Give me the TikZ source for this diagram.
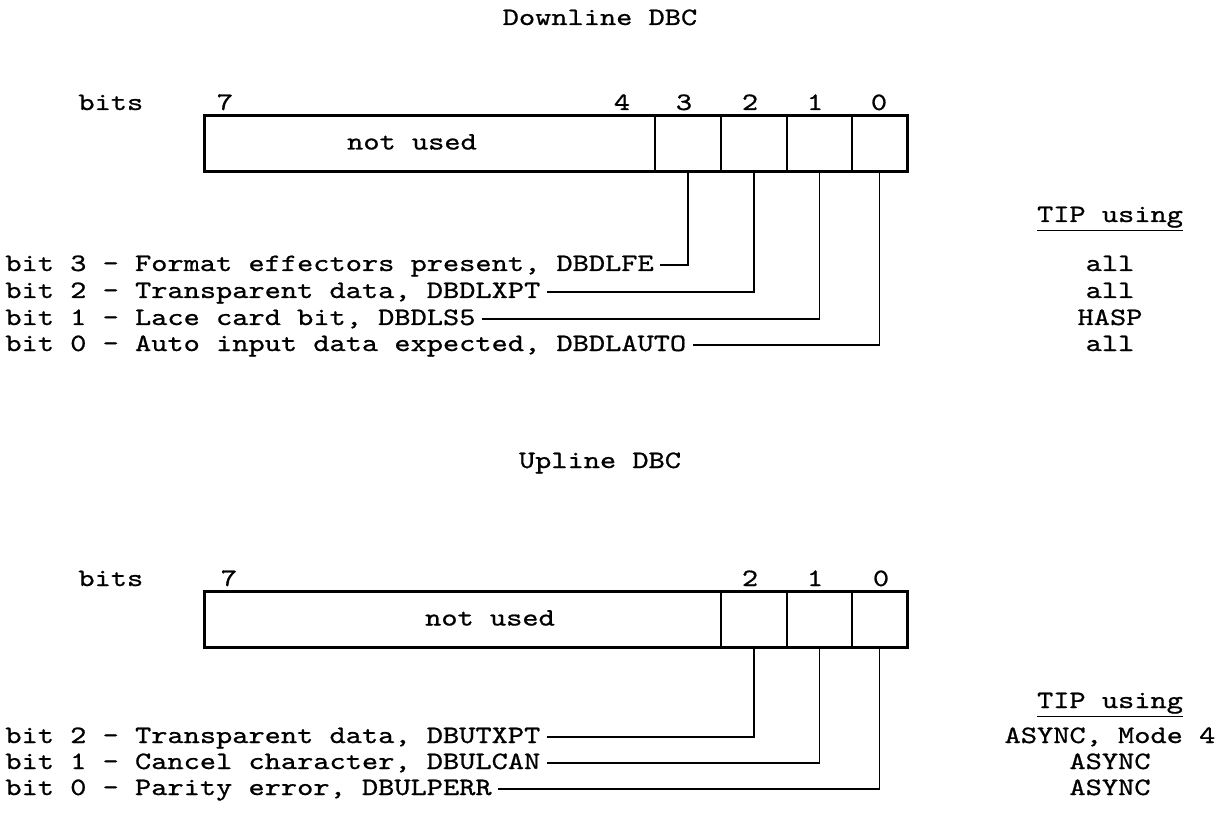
\documentclass[tikz,border=0pt]{standalone}
\usepackage{fontspec}
\usepackage{tikz}
\usetikzlibrary{calc}
\newfontfamily\typewr{lmmono10-regular.otf}[FakeStretch=1.235, FakeBold=0.8]

\begin{document}
\begin{tikzpicture}[x=0.5pt, y=-0.5pt,
	txt/.style={font=\typewr\fontsize{12.5}{14}\selectfont, inner sep=0pt,
		text height=0.6em, text depth=0pt},
	row/.style={txt, anchor=west, inner xsep=3pt},
	cell/.style={draw, line width=0.8pt, minimum height=27.5pt, inner sep=0pt},
	frame/.style={draw, line width=1.6pt},
	wire/.style={line width=0.9pt}]
	\useasboundingbox (0,0) rectangle (1219,823);
	
	% downline
	\node[txt] (dtitle) at (600,19) {Downline DBC};
	\node[txt, anchor=west] (dbits) at (78,104) {bits};
	\node[cell, minimum width=225pt] (dnu) at (430,143.5) {};
	\node[txt] (dnut) at (412,143.5) {not used};
	\foreach \b/\x/\w in {3/688/33, 2/754/33, 1/819.5/32.5, 0/879.5/27.5}
		\node[cell, minimum width=\w pt] (d\b) at (\x,143.5) {};
	\draw[frame] (dnu.north west) rectangle (d0.south east);
	\foreach \b/\x in {7/225, 4/622, 3/684, 2/750, 1/815, 0/879}
		\node[txt] (dl\b) at (\x,104) {\b};
	
	\node[row] (t3) at (-1,265) {bit 3 - Format effectors present, DBDLFE};
	\node[row] (t2) at (-1,292) {bit 2 - Transparent data, DBDLXPT};
	\node[row] (t1) at (-1,319) {bit 1 - Lace card bit, DBDLS5};
	\node[row] (t0) at (-1,345) {bit 0 - Auto input data expected, DBDLAUTO};
	\foreach \b in {3,2,1,0}
		\draw[wire] (d\b.south) |- (t\b.east);
	
	\node[txt] (dtip) at (1110,216) {\underline{TIP using}};
	\node[txt] (dp3) at (1110,265) {all};
	\node[txt] (dp2) at (1110,292) {all};
	\node[txt] (dp1) at (1110,319) {HASP};
	\node[txt] (dp0) at (1110,345) {all};
	
	% upline
	\node[txt] (utitle) at (600,462) {Upline DBC};
	\node[txt, anchor=west] (ubits) at (78,580) {bits};
	\node[cell, minimum width=258pt] (unu) at (463,619.5) {};
	\node[txt] (unut) at (490,619.5) {not used};
	\foreach \b/\x/\w in {2/754/33, 1/819.5/32.5, 0/879.5/27.5}
		\node[cell, minimum width=\w pt] (u\b) at (\x,619.5) {};
	\draw[frame] (unu.north west) rectangle (u0.south east);
	\foreach \b/\x in {7/229, 2/750, 1/815, 0/881}
		\node[txt] (ul\b) at (\x,580) {\b};
	
	\node[row] (s2) at (-1,737) {bit 2 - Transparent data, DBUTXPT};
	\node[row] (s1) at (-1,763) {bit 1 - Cancel character, DBULCAN};
	\node[row] (s0) at (-1,789) {bit 0 - Parity error, DBULPERR};
	\foreach \b in {2,1,0}
		\draw[wire] (u\b.south) |- (s\b.east);
	
	\node[txt] (utip) at (1110,702) {\underline{TIP using}};
	\node[txt] (up2) at (1110,737) {ASYNC, Mode 4};
	\node[txt] (up1) at (1110,763) {ASYNC};
	\node[txt] (up0) at (1110,789) {ASYNC};
\end{tikzpicture}
\end{document}
